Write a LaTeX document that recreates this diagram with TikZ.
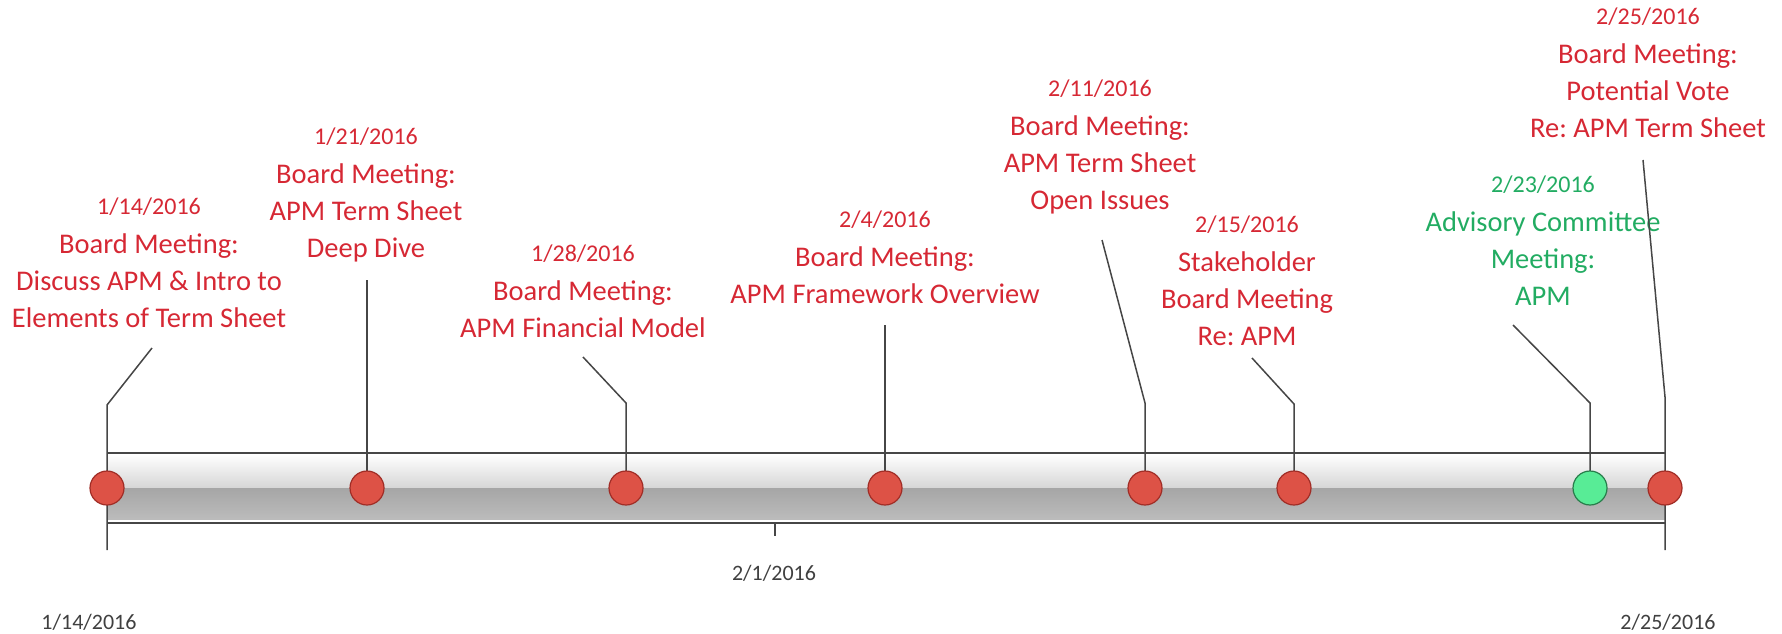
\documentclass[tikz,border=0pt]{standalone}
\usepackage{fontspec}
\setmainfont{Carlito}
\frenchspacing
\definecolor{evred}{RGB}{214,40,52}
\definecolor{evgreen}{RGB}{34,172,98}
\definecolor{dotred}{RGB}{221,82,70}
\definecolor{dotredline}{RGB}{160,45,38}
\definecolor{dotgreen}{RGB}{88,236,150}
\definecolor{dotgreenline}{RGB}{40,125,75}
\definecolor{linegray}{RGB}{70,70,70}
\definecolor{axisgray}{RGB}{64,64,64}
\definecolor{barlight}{RGB}{214,214,214}
\definecolor{bardark}{RGB}{166,166,166}
\definecolor{bardarkb}{RGB}{188,188,188}
\newcommand{\evdate}[1]{{\fontsize{24}{28}\selectfont #1}}
\begin{document}
\begin{tikzpicture}[x=1pt,y=-1pt,
  evlabel/.style={align=center, anchor=base, inner sep=0pt,
    font=\fontsize{28.5}{36.7}\selectfont\frenchspacing, text=evred},
  greenlabel/.style={evlabel, text=evgreen},
  leader/.style={draw=linegray, line width=1.5pt},
  barline/.style={draw=linegray, line width=1.6pt},
  reddot/.style={circle, minimum size=34pt, inner sep=0pt, fill=dotred,
    draw=dotredline, line width=1.2pt},
  greendot/.style={reddot, fill=dotgreen, draw=dotgreenline},
  axislabel/.style={anchor=base, inner sep=0pt,
    font=\fontsize{22}{26}\selectfont, text=axisgray}]
\useasboundingbox (0,0) rectangle (1782,634);

% bar
\shade[top color=white, bottom color=barlight] (107,454) rectangle (1665,488);
\shade[top color=bardark, bottom color=bardarkb] (107,488) rectangle (1665,520);
\fill[white] (107,519.5) rectangle (1665,521.5);
\draw[barline] (107,453) -- (1665,453);
\draw[barline] (107,523) -- (1665,523);

% labels (anchor base = baseline of last line)
\node[evlabel] (l1) at (149,327) {\evdate{1/14/2016}\\[2.3pt]Board Meeting:\\Discuss APM \& Intro to\\Elements of Term Sheet};
\node[evlabel] (l2) at (366,257) {\evdate{1/21/2016}\\[2.3pt]Board Meeting:\\APM Term Sheet\\Deep Dive};
\node[evlabel] (l3) at (583,337) {\evdate{1/28/2016}\\[2.3pt]Board Meeting:\\APM Financial Model};
\node[evlabel] (l4) at (885,303) {\evdate{2/4/2016}\\[2.3pt]Board Meeting:\\APM Framework Overview};
\node[evlabel] (l5) at (1100,209) {\evdate{2/11/2016}\\[2.3pt]Board Meeting:\\APM Term Sheet\\Open Issues};
\node[evlabel] (l6) at (1247,345) {\evdate{2/15/2016}\\[2.3pt]Stakeholder\\Board Meeting\\Re: APM};
\node[greenlabel] (l7) at (1543,305) {\evdate{2/23/2016}\\[2.3pt]Advisory Committee\\Meeting:\\APM};
\node[evlabel] (l8) at (1648,137) {\evdate{2/25/2016}\\[2.3pt]Board Meeting:\\Potential Vote\\Re: APM Term Sheet};

% leader coordinates
\coordinate (s1) at (152,348); \coordinate (b1) at (107,405); \coordinate (e1) at (107,550); \coordinate (p1) at (107,488);
\coordinate (s2) at (367,280); \coordinate (p2) at (367,488);
\coordinate (s3) at (583,357); \coordinate (b3) at (626,403); \coordinate (p3) at (626,488);
\coordinate (s4) at (885,325); \coordinate (p4) at (885,488);
\coordinate (s5) at (1102,240); \coordinate (b5) at (1145,403); \coordinate (p5) at (1145,488);
\coordinate (s6) at (1252,358); \coordinate (b6) at (1294,404); \coordinate (p6) at (1294,488);
\coordinate (s7) at (1513,325); \coordinate (b7) at (1590,403); \coordinate (p7) at (1590,488);
\coordinate (s8) at (1643,160); \coordinate (b8) at (1665,397); \coordinate (e8) at (1665,550); \coordinate (p8) at (1665,488);

\draw[leader] (s1) -- (b1) -- (e1);
\draw[leader] (s2) -- (p2);
\draw[leader] (s3) -- (b3) -- (p3);
\draw[leader] (s4) -- (p4);
\draw[leader] (s5) -- (b5) -- (p5);
\draw[leader] (s6) -- (b6) -- (p6);
\draw[leader] (s7) -- (b7) -- (p7);
\draw[leader] (s8) -- (b8) -- (e8);

% dots
\node[reddot] (d1) at (p1) {};
\node[reddot] (d2) at (p2) {};
\node[reddot] (d3) at (p3) {};
\node[reddot] (d4) at (p4) {};
\node[reddot] (d5) at (p5) {};
\node[reddot] (d6) at (p6) {};
\node[greendot] (d7) at (p7) {};
\node[reddot] (d8) at (p8) {};

% axis
\coordinate (t1) at (775,523); \coordinate (t2) at (775,536);
\draw[leader] (t1) -- (t2);
\node[axislabel] (a1) at (89,629) {1/14/2016};
\node[axislabel] (a2) at (774,580) {2/1/2016};
\node[axislabel] (a3) at (1668,629) {2/25/2016};
\end{tikzpicture}
\end{document}
